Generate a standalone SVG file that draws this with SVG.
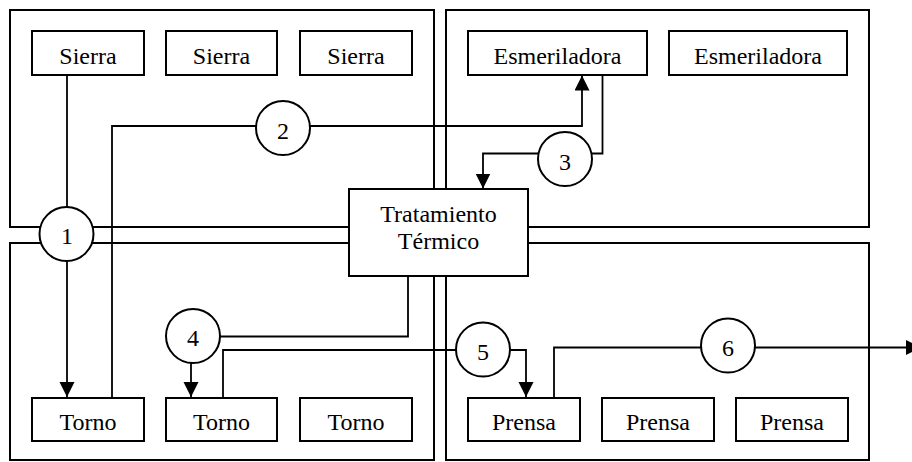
<svg xmlns="http://www.w3.org/2000/svg" width="912" height="462" viewBox="0 0 912 462">
<style>
  .region { fill: none; stroke: #000; stroke-width: 2; }
  .box { fill: #fff; stroke: #000; stroke-width: 2; }
  .lbl { font-family: "Liberation Serif", "Times New Roman", serif; font-size: 24px; fill: #000; text-anchor: middle; }
  .conn { fill: none; stroke: #000; stroke-width: 1.8; }
  .circ { fill: #fff; stroke: #000; stroke-width: 2; }
</style>
<defs>
  <marker id="arrow" markerUnits="userSpaceOnUse" markerWidth="16" markerHeight="16" refX="15" refY="7.5" orient="auto">
    <path d="M0,0 L15,7.5 L0,15 Z" fill="#000"/>
  </marker>
</defs>
<rect fill="#fff" x="0" y="0" width="912" height="462"/>
<g id="regions">
  <rect class="region" x="10" y="10" width="424" height="217"/>
  <rect class="region" x="446" y="10" width="423" height="217"/>
  <rect class="region" x="10" y="243" width="424" height="217"/>
  <rect class="region" x="446" y="243" width="423" height="217"/>
</g>
<g id="tratamiento">
  <rect class="box" x="349" y="189" width="179" height="87"/>
  <text class="lbl" x="438.5" y="221.5">Tratamiento</text>
  <text class="lbl" x="438.5" y="249">Térmico</text>
</g>
<g id="sierra1"><rect class="box" x="32" y="31" width="112" height="44"/><text class="lbl" x="88" y="63.5">Sierra</text></g>
<g id="sierra2"><rect class="box" x="166" y="31" width="111" height="44"/><text class="lbl" x="221.5" y="63.5">Sierra</text></g>
<g id="sierra3"><rect class="box" x="300" y="31" width="112" height="44"/><text class="lbl" x="356" y="63.5">Sierra</text></g>
<g id="esmeriladora1"><rect class="box" x="468" y="31" width="179" height="44"/><text class="lbl" x="557.5" y="63.5">Esmeriladora</text></g>
<g id="esmeriladora2"><rect class="box" x="669" y="31" width="178" height="44"/><text class="lbl" x="758" y="63.5">Esmeriladora</text></g>
<g id="torno1"><rect class="box" x="32" y="398" width="112" height="43"/><text class="lbl" x="88" y="430">Torno</text></g>
<g id="torno2"><rect class="box" x="166" y="398" width="111" height="43"/><text class="lbl" x="221.5" y="430">Torno</text></g>
<g id="torno3"><rect class="box" x="300" y="398" width="112" height="43"/><text class="lbl" x="356" y="430">Torno</text></g>
<g id="prensa1"><rect class="box" x="468" y="398" width="112" height="43"/><text class="lbl" x="524" y="430">Prensa</text></g>
<g id="prensa2"><rect class="box" x="602" y="398" width="112" height="43"/><text class="lbl" x="658" y="430">Prensa</text></g>
<g id="prensa3"><rect class="box" x="736" y="398" width="112" height="43"/><text class="lbl" x="792" y="430">Prensa</text></g>
<g id="connectors">
  <path class="conn" d="M67,75 V234"/>
  <path class="conn" d="M67,234 V397" marker-end="url(#arrow)"/>
  <path class="conn" d="M112,398 V126 H582 V75.5" marker-end="url(#arrow)"/>
  <path class="conn" d="M602.5,75 V153.5 H483 V188.5" marker-end="url(#arrow)"/>
  <path class="conn" d="M408,276 V336.5 H193"/>
  <path class="conn" d="M191,336 V397" marker-end="url(#arrow)"/>
  <path class="conn" d="M223,398 V350 H526 V397" marker-end="url(#arrow)"/>
  <path class="conn" d="M554,398 V347.5 H921" marker-end="url(#arrow)"/>
</g>
<g id="c1"><circle class="circ" cx="66.5" cy="234" r="27"/><text class="lbl" x="67" y="244">1</text></g>
<g id="c2"><circle class="circ" cx="283" cy="128" r="27"/><text class="lbl" x="283" y="138.5">2</text></g>
<g id="c3"><circle class="circ" cx="565" cy="159" r="27"/><text class="lbl" x="565" y="169.5">3</text></g>
<g id="c4"><circle class="circ" cx="193" cy="336" r="27"/><text class="lbl" x="193" y="345.5">4</text></g>
<g id="c5"><circle class="circ" cx="483" cy="349.5" r="27"/><text class="lbl" x="483" y="360">5</text></g>
<g id="c6"><circle class="circ" cx="728" cy="345.5" r="27"/><text class="lbl" x="728" y="356">6</text></g>
</svg>
